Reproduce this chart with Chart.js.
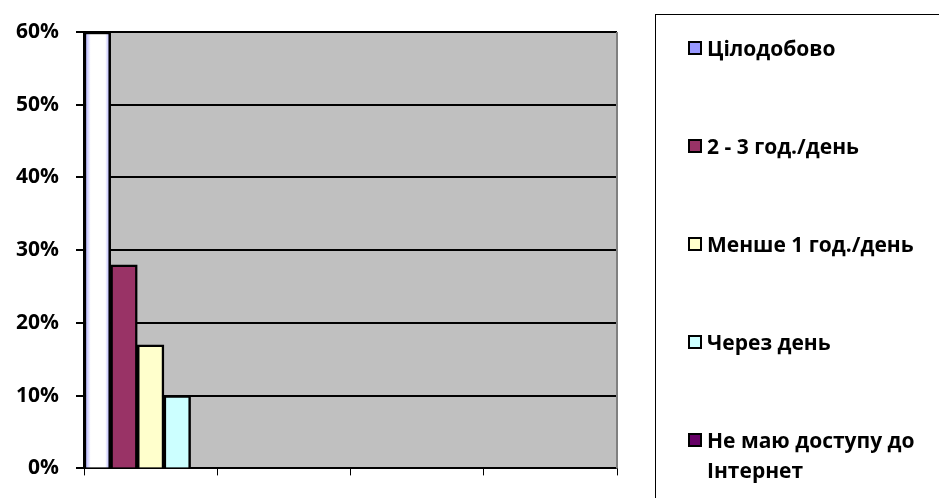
<!DOCTYPE html>
<html>
<head>
<meta charset="utf-8">
<script src="https://cdn.jsdelivr.net/npm/chart.js@4"></script>
<style>
body { margin: 0; background: #fff; font-family: "Open Sans", sans-serif; }
#wrap { position: relative; width: 939px; height: 498px; overflow: hidden; }
#chart { position: absolute; left: 0; top: 0; }
#legend { position: absolute; left: 655px; top: 14px; width: 330px; height: 540px; border: 1px solid #000; box-sizing: border-box; }
.item { position: absolute; left: 32px; padding-left: 19px; width: 225px; font-weight: bold; font-size: 21px; line-height: 30px; color: #000; }
.sw { position: absolute; left: 0; top: 8px; width: 10px; height: 10px; border: 2px solid #000; }
</style>
</head>
<body>
<div id="wrap">
  <canvas id="chart" width="939" height="498"></canvas>
  <div id="legend"></div>
</div>
<script>
// дані з картинки
const categories = ['', '', '', ''];
const seriesNames = ['Цілодобово', '2 - 3 год./день', 'Менше 1 год./день', 'Через день', 'Не маю доступу до Інтернет'];
const seriesValues = [60, 28, 17, 10, 0];
const yTicks = [0, 10, 20, 30, 40, 50, 60];

const colors = ['#9999FF', '#993366', '#FFFFCC', '#CCFFFF', '#660066'];

// перший стовпчик: білий з блакитними краями
function firstBarFill(ctx) {
    const chart = ctx.chart;
    const area = chart.chartArea;
    if (!area) return '#fff';
    const w = (area.right - area.left) / categories.length / seriesNames.length;
    const l = area.left, r = l + w;
    const g = chart.ctx.createLinearGradient(l, 0, r, 0);
    g.addColorStop(0, '#9999FF');
    g.addColorStop(0.25, '#ffffff');
    g.addColorStop(0.8, '#ffffff');
    g.addColorStop(1, '#9999FF');
    return g;
}

const datasets = seriesNames.map((name, i) => ({
    label: name,
    data: categories.map((c, j) => j === 0 ? seriesValues[i] : null),
    backgroundColor: i === 0 ? firstBarFill : colors[i],
    borderColor: '#000',
    borderWidth: 2.5,
    borderSkipped: 'bottom'
}));

const plotBg = {
    id: 'plotBg',
    beforeDraw(chart) {
        const { ctx, chartArea: a } = chart;
        ctx.save();
        ctx.fillStyle = '#C0C0C0';
        ctx.fillRect(a.left, a.top, a.right - a.left, a.bottom - a.top);
        ctx.restore();
    },
    afterDraw(chart) {
        const { ctx, chartArea: a } = chart;
        ctx.save();
        ctx.strokeStyle = '#808080';
        ctx.lineWidth = 2;
        ctx.beginPath();
        ctx.moveTo(a.right, a.top);
        ctx.lineTo(a.right, a.bottom);
        ctx.stroke();
        ctx.restore();
    }
};

new Chart(document.getElementById('chart'), {
    type: 'bar',
    data: { labels: categories, datasets: datasets },
    options: {
        responsive: false,
        animation: false,
        layout: { padding: { top: 32, right: 322, left: 0, bottom: 0 } },
        plugins: { legend: { display: false }, tooltip: { enabled: false } },
        datasets: { bar: { categoryPercentage: 1, barPercentage: 1 } },
        scales: {
            x: {
                grid: { display: true, drawOnChartArea: false, color: '#000', lineWidth: 1, tickLength: 7, offset: true },
                border: { color: '#000', width: 2 },
                ticks: { display: false },
                afterFit: s => { s.height = 10; }
            },
            y: {
                min: 0, max: 60,
                afterBuildTicks: s => { s.ticks = yTicks.map(v => ({ value: v })); },
                grid: { color: '#000', lineWidth: 2, tickLength: 8 },
                border: { color: '#000', width: 2 },
                ticks: {
                    color: '#000',
                    padding: 17,
                    font: { family: 'Open Sans', weight: 'bold', size: 21 },
                    callback: v => v + '%'
                },
                afterFit: s => { s.width = 84; }
            }
        }
    },
    plugins: [plotBg]
});

// легенда праворуч
const legend = document.getElementById('legend');
seriesNames.forEach((name, i) => {
    const item = document.createElement('div');
    item.className = 'item';
    item.style.top = (18 + i * 98) + 'px';
    item.innerHTML = '<span class="sw" style="background:' + colors[i] + '"></span>' + name;
    legend.appendChild(item);
});
</script>
</body>
</html>
